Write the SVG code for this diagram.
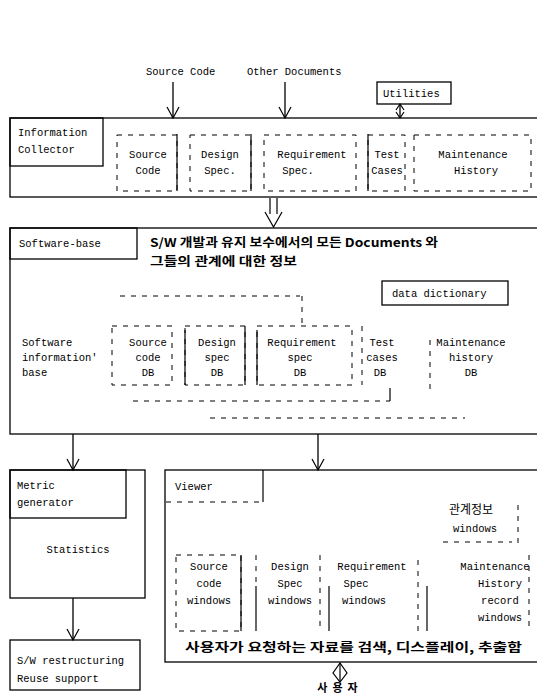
<svg xmlns="http://www.w3.org/2000/svg" width="537" height="694" viewBox="0 0 537 694">
<defs>
<style>
.t{font-family:"Liberation Mono","DejaVu Sans Mono",monospace;font-size:10.5px;fill:#000}
.c{text-anchor:middle}
.k{font-family:"Noto Sans CJK KR","Noto Sans",sans-serif;font-size:12px;font-weight:bold;fill:#000}
.b{fill:#fff;stroke:#000;stroke-width:1.3}
.n{fill:none;stroke:#000;stroke-width:1.3}
.d{fill:none;stroke:#000;stroke-width:1;stroke-dasharray:5 6}
.s{fill:none;stroke:#000;stroke-width:1.2}
.h{fill:none;stroke:#000;stroke-width:1.2}
</style>
</defs>
<rect width="537" height="694" fill="#fff"/>

<g id="inputs">
<text class="t" x="146" y="75">Source Code</text>
<text class="t" x="247" y="75">Other Documents</text>
</g>

<g id="utilities">
<rect class="b" x="377" y="82" width="74" height="22"/>
<text class="t" x="383" y="97">Utilities</text>
</g>

<g id="information-collector">
<rect class="n" x="10" y="118" width="540" height="79"/>
<rect class="n" x="10" y="118" width="93" height="48"/>
<text class="t" x="18" y="136">Information</text>
<text class="t" x="18" y="153">Collector</text>
<rect class="d" x="117" y="135" width="60" height="56"/>
<line class="s" x1="177" y1="134" x2="177" y2="191"/>
<text class="t c" x="148" y="158">Source</text>
<text class="t c" x="148" y="174">Code</text>
<rect class="d" x="190" y="135" width="61" height="56"/>
<line class="s" x1="251" y1="134" x2="251" y2="191"/>
<text class="t c" x="220" y="158">Design</text>
<text class="t c" x="220" y="174">Spec.</text>
<rect class="d" x="264" y="135" width="92" height="56"/>
<text class="t c" x="312" y="158">Requirement</text>
<text class="t c" x="298" y="174">Spec.</text>
<line class="s" x1="368" y1="134" x2="368" y2="191"/>
<rect class="d" x="368" y="135" width="37" height="56"/>
<text class="t c" x="387" y="158">Test</text>
<text class="t c" x="387" y="174">Cases</text>
<rect class="d" x="414" y="135" width="117" height="56"/>
<text class="t c" x="473" y="158">Maintenance</text>
<text class="t c" x="476" y="174">History</text>
</g>

<g id="software-base">
<rect class="n" x="10" y="228" width="540" height="206"/>
<rect class="n" x="10" y="228" width="127" height="31"/>
<text class="t" x="19" y="247">Software-base</text>
<text class="k" x="150" y="247" textLength="288" lengthAdjust="spacingAndGlyphs">S/W 개발과 유지 보수에서의 모든 Documents 와</text>
<text class="k" x="150" y="266" textLength="147" lengthAdjust="spacingAndGlyphs">그들의 관계에 대한 정보</text>
<rect class="b" x="382" y="281" width="126" height="24"/>
<text class="t" x="392" y="297">data dictionary</text>
<line class="d" x1="120" y1="296" x2="300" y2="296"/>
<line class="d" x1="302" y1="296" x2="302" y2="325"/>
<text class="t" x="22" y="346">Software</text>
<text class="t" x="22" y="361">information'</text>
<text class="t" x="22" y="376">base</text>
<rect class="d" x="112" y="326" width="60" height="59"/>
<text class="t c" x="148" y="346">Source</text>
<text class="t c" x="148" y="361">code</text>
<text class="t c" x="148" y="376">DB</text>
<rect class="d" x="185" y="326" width="60" height="59"/>
<line class="s" x1="185" y1="330" x2="185" y2="385"/>
<line class="s" x1="245" y1="326" x2="245" y2="385"/>
<text class="t c" x="217" y="346">Design</text>
<text class="t c" x="217" y="361">spec</text>
<text class="t c" x="217" y="376">DB</text>
<rect class="d" x="257" y="326" width="95" height="59"/>
<line class="s" x1="257" y1="330" x2="257" y2="385"/>
<text class="t c" x="302" y="346">Requirement</text>
<text class="t c" x="300" y="361">spec</text>
<text class="t c" x="300" y="376">DB</text>
<line class="d" x1="362" y1="326" x2="362" y2="385"/>
<text class="t c" x="382" y="346">Test</text>
<text class="t c" x="382" y="361">cases</text>
<text class="t c" x="380" y="376">DB</text>
<line class="d" x1="430" y1="340" x2="430" y2="390"/>
<text class="t c" x="471" y="346">Maintenance</text>
<text class="t c" x="471" y="361">history</text>
<text class="t c" x="471" y="376">DB</text>
<line class="d" x1="133" y1="401" x2="390" y2="401"/>
<line class="s" x1="390" y1="388" x2="390" y2="401"/>
<line class="d" x1="210" y1="418" x2="465" y2="418"/>
</g>

<g id="metric-generator">
<rect class="n" x="10" y="470" width="135" height="128"/>
<rect class="n" x="10" y="470" width="116" height="48"/>
<text class="t" x="17" y="489">Metric</text>
<text class="t" x="17" y="506">generator</text>
<text class="t c" x="78" y="553">Statistics</text>
</g>

<g id="sw-restructuring">
<rect class="n" x="10" y="640" width="130" height="50"/>
<text class="t" x="17" y="664">S/W restructuring</text>
<text class="t" x="17" y="682">Reuse support</text>
</g>

<g id="viewer">
<rect class="n" x="165" y="470" width="380" height="192"/>
<line class="s" x1="263" y1="470" x2="263" y2="502"/>
<line class="d" x1="166" y1="502" x2="263" y2="502"/>
<text class="t" x="175" y="490">Viewer</text>
<text class="k" x="449" y="514" style="font-weight:normal">관계정보</text>
<text class="t" x="453" y="532">windows</text>
<line class="d" x1="443" y1="542" x2="512" y2="542"/>
<line class="d" x1="518" y1="505" x2="518" y2="545"/>
<rect class="d" x="176" y="555" width="65" height="76"/>
<line class="s" x1="241" y1="555" x2="241" y2="631"/>
<text class="t c" x="209" y="570">Source</text>
<text class="t c" x="209" y="587">code</text>
<text class="t c" x="209" y="604">windows</text>
<line class="s" x1="256" y1="586" x2="256" y2="631"/>
<line class="d" x1="256" y1="555" x2="256" y2="586"/>
<text class="t c" x="290" y="570">Design</text>
<text class="t c" x="290" y="587">Spec</text>
<text class="t c" x="290" y="604">windows</text>
<line class="d" x1="320" y1="555" x2="320" y2="631"/>
<line class="s" x1="329" y1="586" x2="329" y2="631"/>
<text class="t c" x="372" y="570">Requirement</text>
<text class="t c" x="356" y="587">Spec</text>
<text class="t c" x="364" y="604">windows</text>
<line class="d" x1="418" y1="560" x2="418" y2="631"/>
<line class="s" x1="427" y1="586" x2="427" y2="631"/>
<text class="t c" x="495" y="570">Maintenance</text>
<text class="t c" x="500" y="587">History</text>
<text class="t c" x="500" y="604">record</text>
<text class="t c" x="500" y="621">windows</text>
<line class="d" x1="529" y1="555" x2="529" y2="631"/>
<text class="k" x="185" y="652" textLength="337" lengthAdjust="spacingAndGlyphs">사용자가 요청하는 자료를 검색, 디스플레이, 추출함</text>
</g>

<g id="user">
<text class="k" x="340" y="692" text-anchor="middle" style="font-size:11px;letter-spacing:5px">사용자</text>
</g>

<g id="connectors">
<line class="n" x1="173" y1="82" x2="173" y2="118"/>
<path class="h" d="M167,107 L173,118 L179,107"/>
<line class="n" x1="285" y1="82" x2="285" y2="118"/>
<path class="h" d="M279,107 L285,118 L291,107"/>
<line class="n" x1="400" y1="104" x2="400" y2="118"/>
<path class="h" d="M396,110 L400,104 L404,110 M396,112 L400,118 L404,112"/>
<line class="s" x1="270" y1="198" x2="270" y2="214"/>
<line class="s" x1="277" y1="198" x2="277" y2="214"/>
<path class="s" d="M265,212 L273.5,227 L282,212"/>
<line class="n" x1="73" y1="434" x2="73" y2="470"/>
<path class="h" d="M67,459 L73,470 L79,459"/>
<line class="n" x1="318" y1="434" x2="318" y2="470"/>
<path class="h" d="M312,459 L318,470 L324,459"/>
<line class="n" x1="73" y1="598" x2="73" y2="640"/>
<path class="h" d="M67,629 L73,640 L79,629"/>
<path class="s" d="M340,663 L333,673 L340,682 L347,673 Z"/>
<line class="s" x1="340" y1="663" x2="340" y2="682"/>
</g>
</svg>
